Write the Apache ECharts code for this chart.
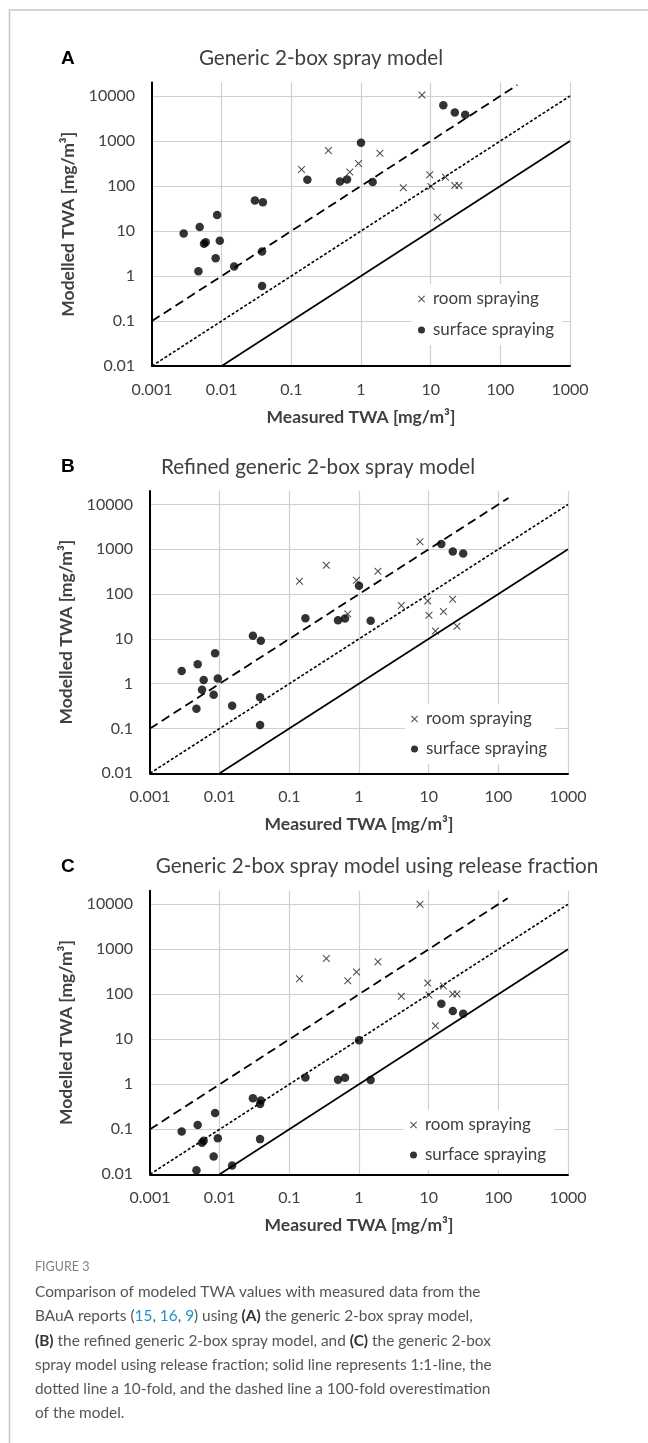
<!DOCTYPE html>
<html><head><meta charset="utf-8">
<script src="https://cdn.jsdelivr.net/npm/echarts@6/dist/echarts.min.js"></script>
<style>html,body{margin:0;padding:0;background:#fff;}#chart{width:648px;height:1443px;}</style>
</head><body><div id="chart"></div>
<script>
// ---- tick labels ----
const xTickLabels = ['0.001', '0.01', '0.1', '1', '10', '100', '1000'];
const yTickLabels = ['0.01', '0.1', '1', '10', '100', '1000', '10000'];
const panelLetters = ['A', 'B', 'C'];
const panelTitles = ['Generic 2-box spray model', 'Refined generic 2-box spray model', 'Generic 2-box spray model using release fraction'];
const seriesNames = ['room spraying', 'surface spraying'];
const xAxisTitle = 'Measured TWA [mg/m³]';
const yAxisTitle = 'Modelled TWA [mg/m³]';

// ---- measured values (shared by the three panels) ----
const roomX = [0.14, 0.34, 0.69, 0.92, 1.87, 4.05, 7.5, 9.7, 10.1, 12.5, 16.3, 22.1, 25.5];
const surfaceX = [0.00285, 0.00464, 0.00484, 0.00558, 0.0059, 0.0082, 0.0086, 0.0094, 0.0151, 0.030, 0.038, 0.038, 0.039, 0.17, 0.50, 0.63, 1.0, 1.47, 15.2, 22.2, 31.3];

// ---- modelled values ----
const roomA = [234, 612, 206, 318, 535, 92, 10500, 178, 98, 20, 157, 102, 102];
const surfaceA = [8.8, 1.28, 12.2, 5.2, 5.6, 2.49, 22.6, 6.05, 1.62, 47.5, 3.5, 0.60, 43.7, 137, 126, 139, 910, 122, 6250, 4300, 3820];
const roomB = [194, 441, 36, 205, 324, 56, 1480, 70, 33.6, 15, 41, 77, 19.1];
const surfaceB = [1.92, 0.275, 2.71, 0.73, 1.21, 0.57, 4.79, 1.31, 0.32, 11.8, 0.50, 0.119, 9.1, 29, 26.2, 28.5, 154, 25.3, 1315, 888, 801];
const roomC = [223, 621, 201, 313, 532, 90, 10000, 179, 97, 20.1, 153, 102, 102];
const surfaceC = [0.0897, 0.0123, 0.124, 0.050, 0.056, 0.0248, 0.23, 0.063, 0.0156, 0.49, 0.366, 0.0605, 0.435, 1.42, 1.26, 1.39, 9.5, 1.24, 62, 42.7, 37.2];

// ---- reference lines ----
const oneToOne = [[0.01, 0.01], [1000, 1000]];
const tenFold = [[0.001, 0.01], [1000, 10000]];
const hundredFoldA = [[0.001, 0.1], [175, 17500]];
const hundredFoldB = [[0.001, 0.1], [140, 14000]];
const hundredFoldC = [[0.001, 0.1], [136, 13600]];

// ---- axis ranges ----
const xMin = 0.001, xMax = 1000, yMin = 0.01, yTop = 10000, yMax = 20000;

const roomData = [roomA, roomB, roomC];
const surfaceData = [surfaceA, surfaceB, surfaceC];
const hundredData = [hundredFoldA, hundredFoldB, hundredFoldC];

// layout (pixels)
const panels = [
  {L: 152, R: 570, yT: 96, yB: 366, titleX: 321, legL: 412, legT: 284, legGap: 13},
  {L: 150, R: 568, yT: 504.5, yB: 773.3, titleX: 318, legL: 405, legT: 704, legGap: 12},
  {L: 150, R: 568, yT: 904.3, yB: 1174.3, titleX: 377, legL: 404, legT: 1110, legGap: 12}
];

const FONT = 'Lato';
const xPath = 'path://M1,0L5,4L9,0L10,1L6,5L10,9L9,10L5,6L1,10L0,9L4,5L0,1Z';
const pair = (xs, ys) => xs.map((x, i) => [x, ys[i]]);

const grids = [], xAxes = [], yAxes = [], series = [], legends = [], graphics = [];

panels.forEach((p, i) => {
  const dec = (p.yB - p.yT) / Math.log10(yTop / yMin);
  const top = p.yT - dec * Math.log10(yMax / yTop);
  grids.push({left: p.L, top: top, width: p.R - p.L, height: p.yB - top, containLabel: false, outerBoundsMode: 'none'});
  xAxes.push({
    type: 'log', logBase: 10, gridIndex: i, min: xMin, max: xMax, splitNumber: 6,
    axisLine: {show: true, onZero: false, lineStyle: {color: '#000', width: 2}},
    axisTick: {show: false},
    splitLine: {show: true, lineStyle: {color: '#d0d0d0', width: 1.2}},
    axisLabel: {color: '#404040', fontFamily: FONT, fontSize: 16, margin: 16,
      formatter: v => xTickLabels[Math.round(Math.log10(v)) + 3]},
    name: xAxisTitle, nameLocation: 'middle', nameGap: 42,
    nameTextStyle: {color: '#404040', fontFamily: FONT, fontSize: 17.5, fontWeight: 'bold'}
  });
  yAxes.push({
    type: 'log', logBase: 10, gridIndex: i, min: yMin, max: yMax, splitNumber: 6,
    axisLine: {show: true, onZero: false, lineStyle: {color: '#000', width: 2}},
    axisTick: {show: false},
    splitLine: {show: true, showMaxLine: false, lineStyle: {color: '#d0d0d0', width: 1.2}},
    axisLabel: {color: '#404040', fontFamily: FONT, fontSize: 16, margin: 17, showMaxLabel: false,
      formatter: v => { const k = Math.round(Math.log10(v)) + 2; return (k >= 0 && k < yTickLabels.length && Math.abs(Math.log10(v) - (k - 2)) < 1e-6) ? yTickLabels[k] : ''; }},
    name: yAxisTitle, nameLocation: 'middle', nameGap: 72,
    nameTextStyle: {color: '#404040', fontFamily: FONT, fontSize: 17.5, fontWeight: 'bold'}
  });
  const base = {xAxisIndex: i, yAxisIndex: i, silent: true, animation: false};
  series.push(Object.assign({type: 'line', data: oneToOne, symbol: 'none', lineStyle: {color: '#000', width: 1.7, type: 'solid'}, z: 3}, base));
  series.push(Object.assign({type: 'line', data: tenFold, symbol: 'none', lineStyle: {color: '#000', width: 1.6, type: [3, 2]}, z: 3}, base));
  series.push(Object.assign({type: 'line', data: hundredData[i], symbol: 'none', lineStyle: {color: '#000', width: 1.8, type: [9, 5]}, z: 3}, base));
  series.push(Object.assign({type: 'scatter', name: seriesNames[0], data: pair(roomX, roomData[i]), symbol: xPath, symbolSize: 7.5, itemStyle: {color: '#222'}, z: 4}, base));
  series.push(Object.assign({type: 'scatter', name: seriesNames[1], data: pair(surfaceX, surfaceData[i]), symbol: 'circle', symbolSize: 8.5, itemStyle: {color: '#000'}, z: 4}, base));
  legends.push({
    orient: 'vertical', left: p.legL, top: p.legT, data: seriesNames, selectedMode: false,
    backgroundColor: '#fff', padding: [6, 8, 6, 6], itemGap: p.legGap, itemWidth: 7, itemHeight: 7,
    textStyle: {color: '#404040', fontFamily: FONT, fontSize: 17, lineHeight: 18, padding: [0, 0, 0, 3]}
  });
  graphics.push({type: 'text', x: 61, y: p.yT - 37.5, style: {text: panelLetters[i], fill: '#000', font: 'bold 19px "Liberation Sans", Arial, sans-serif', verticalAlign: 'middle', align: 'left'}});
  graphics.push({type: 'text', x: p.titleX, y: p.yT - 37.5, style: {text: panelTitles[i], fill: '#404040', font: '20.7px Lato', verticalAlign: 'middle', align: 'center'}});
});

// frame
graphics.unshift({type: 'rect', shape: {x: 9.5, y: 10, width: 700, height: 1500}, style: {fill: 'none', stroke: '#c8c8c8', lineWidth: 1.5}, silent: true});

// caption
const capFont = 'Lato';
const capRich = {
  t: {fill: '#555', fontFamily: capFont, fontSize: 15.4},
  l: {fill: '#1a96c8', fontFamily: capFont, fontSize: 15.4},
  b: {fill: '#333', fontFamily: capFont, fontSize: 15.4, fontWeight: 'bold'}
};
const captionLines = [
  '{t|Comparison of modeled TWA values with measured data from the}',
  '{t|BAuA reports (}{l|15}{t|, }{l|16}{t|, }{l|9}{t|) using }{b|(A)}{t| the generic 2-box spray model,}',
  '{b|(B)}{t| the refined generic 2-box spray model, and }{b|(C)}{t| the generic 2-box}',
  '{t|spray model using release fraction; solid line represents 1:1-line, the}',
  '{t|dotted line a 10-fold, and the dashed line a 100-fold overestimation}',
  '{t|of the model.}'
];
const captionY = [1292, 1316, 1341, 1365, 1389, 1413];
graphics.push({type: 'text', x: 35, y: 1267, style: {text: 'FIGURE 3', fill: '#808080', font: '12.5px Lato', verticalAlign: 'middle'}});
captionLines.forEach((ln, k) => {
  graphics.push({type: 'text', x: 35, y: captionY[k], style: {text: ln, rich: capRich, fill: '#555', font: '15.4px Lato', verticalAlign: 'middle'}});
});

const chart = echarts.init(document.getElementById('chart'), null, {renderer: 'canvas'});
chart.setOption({
  animation: false,
  backgroundColor: '#fff',
  grid: grids, xAxis: xAxes, yAxis: yAxes, series: series, legend: legends,
  graphic: graphics
});
</script></body></html>
